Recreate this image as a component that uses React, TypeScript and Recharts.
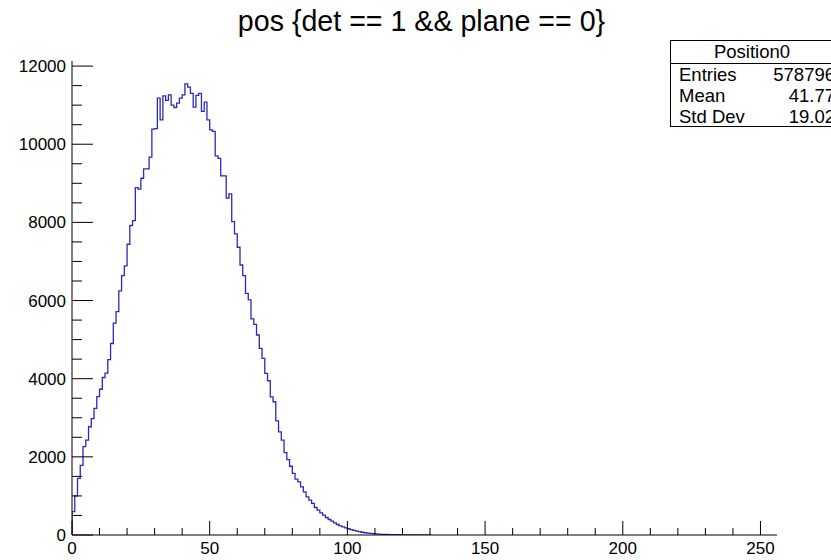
import React from "react";
import { LineChart, Line, XAxis, YAxis } from "recharts";

// bin contents of "pos" (bins of width 1 starting at 0)
const counts = [
  600, 1000, 1450, 1780, 2260, 2430, 2770, 2980, 3240, 3540,
  3730, 4030, 4140, 4490, 4900, 5420, 5715, 6245, 6640, 6885,
  7440, 7920, 8045, 8890, 8850, 9130, 9370, 9370, 9670, 10385,
  10400, 11180, 10625, 11240, 11120, 11265, 11000, 10940, 11050, 11180,
  11265, 11547, 11460, 11300, 10950, 11250, 11300, 10840, 11080, 10625,
  10370, 10330, 9700, 9640, 9190, 9190, 8620, 8730, 8020, 7705,
  7364, 6910, 6640, 6185, 6015, 5530, 5390, 5118, 4776, 4520,
  4137, 3947, 3537, 3410, 2923, 2640, 2428, 2110, 1930, 1760,
  1575, 1430, 1360, 1232, 1104, 976, 891, 807, 704, 635,
  566, 507, 448, 397, 353, 310, 269, 233, 207, 180,
  160, 138, 120, 100, 85, 70, 58, 48, 40, 33,
  27, 22, 18, 15, 13, 11, 9, 8, 7, 6,
  5, 4, 4, 3, 3, 2, 2, 2, 1, 1,
];

const xMajor = [0, 50, 100, 150, 200, 250];
const yMajor = [0, 2000, 4000, 6000, 8000, 10000, 12000];

const title = "pos {det == 1 && plane == 0}";
const statsName = "Position0";
const statsRows = [
  ["Entries", "578796"],
  ["Mean", "41.77"],
  ["Std Dev", "19.02"],
];

const nBins = 256;
const yMax = 12130;

const xTicks: number[] = [];
for (let v = 0; v <= 250; v += 10) xTicks.push(v);
const yTicks: number[] = [];
for (let v = 0; v <= 12000; v += 500) yTicks.push(v);

// step outline: start at the baseline, one point per bin low edge, drop back to 0
const histData = [
  { pos: 0, count: 0 },
  ...counts.map((c, i) => ({ pos: i, count: c })),
  { pos: counts.length, count: 0 },
];

const font = "'Liberation Sans', Arial, Helvetica, sans-serif";

const XTick = (props: any) => {
  const { x, y, payload } = props;
  const major = xMajor.includes(payload.value);
  return (
    <g>
      <line x1={x} x2={x} y1={y} y2={y - (major ? 14 : 7)} stroke="#000" />
      {major && (
        <text x={x} y={y + 19} textAnchor="middle" fontSize={17} fontFamily={font} fill="#000">
          {payload.value}
        </text>
      )}
    </g>
  );
};

const YTick = (props: any) => {
  const { x, y, payload } = props;
  const major = yMajor.includes(payload.value);
  return (
    <g>
      <line x1={x} x2={x + (major ? 21 : 10)} y1={y} y2={y} stroke="#000" />
      {major && (
        <text x={x - 6} y={y + 6} textAnchor="end" fontSize={17} fontFamily={font} fill="#000">
          {payload.value}
        </text>
      )}
    </g>
  );
};

export default function App() {
  return (
    <div style={{ position: "absolute", left: 0, top: 0, width: 831, height: 560, background: "#fff", overflow: "hidden" }}>
      <div
        style={{
          position: "absolute", left: 0, top: 5, width: 843, textAlign: "center",
          fontFamily: font, fontSize: 28.6, lineHeight: "32px", color: "#000",
        }}
      >
        {title}
      </div>
      <LineChart
        width={831}
        height={560}
        data={histData}
        margin={{ top: 61, right: 54, bottom: 0, left: 12 }}
      >
        <XAxis
          dataKey="pos"
          type="number"
          domain={[0, nBins]}
          ticks={xTicks}
          interval={0}
          tickSize={0}
          tickMargin={0}
          tickLine={false}
          tick={<XTick />}
          axisLine={{ stroke: "#000" }}
          height={25}
          allowDataOverflow
        />
        <XAxis xAxisId="top" orientation="top" type="number" dataKey="pos" domain={[0, nBins]} tick={false} tickLine={false} axisLine={{ stroke: "#000" }} height={0} allowDataOverflow />
        <YAxis
          type="number"
          domain={[0, yMax]}
          ticks={yTicks}
          interval={0}
          tickSize={0}
          tickMargin={0}
          tickLine={false}
          tick={<YTick />}
          axisLine={{ stroke: "#000" }}
          width={60}
          allowDataOverflow
        />
        <YAxis yAxisId="right" orientation="right" type="number" domain={[0, yMax]} tick={false} tickLine={false} axisLine={{ stroke: "#000" }} width={0} allowDataOverflow />
        <Line
          type="stepAfter"
          dataKey="count"
          stroke="#2a2ab8"
          strokeWidth={1.3}
          dot={false}
          activeDot={false}
          isAnimationActive={false}
        />
      </LineChart>
      <div
        style={{
          position: "absolute", left: 670, top: 40, width: 170, height: 85,
          border: "1px solid #000", background: "#fff", fontFamily: font, fontSize: 18.5, color: "#000",
        }}
      >
        <div style={{ height: 22, lineHeight: "22px", borderBottom: "1px solid #000", textAlign: "center", paddingRight: 8 }}>
          {statsName}
        </div>
        {statsRows.map(([k, v]) => (
          <div key={k} style={{ height: 21, lineHeight: "21px", display: "flex", justifyContent: "space-between", padding: "0 6px 0 8px" }}>
            <span>{k}</span>
            <span>{v}</span>
          </div>
        ))}
      </div>
    </div>
  );
}
